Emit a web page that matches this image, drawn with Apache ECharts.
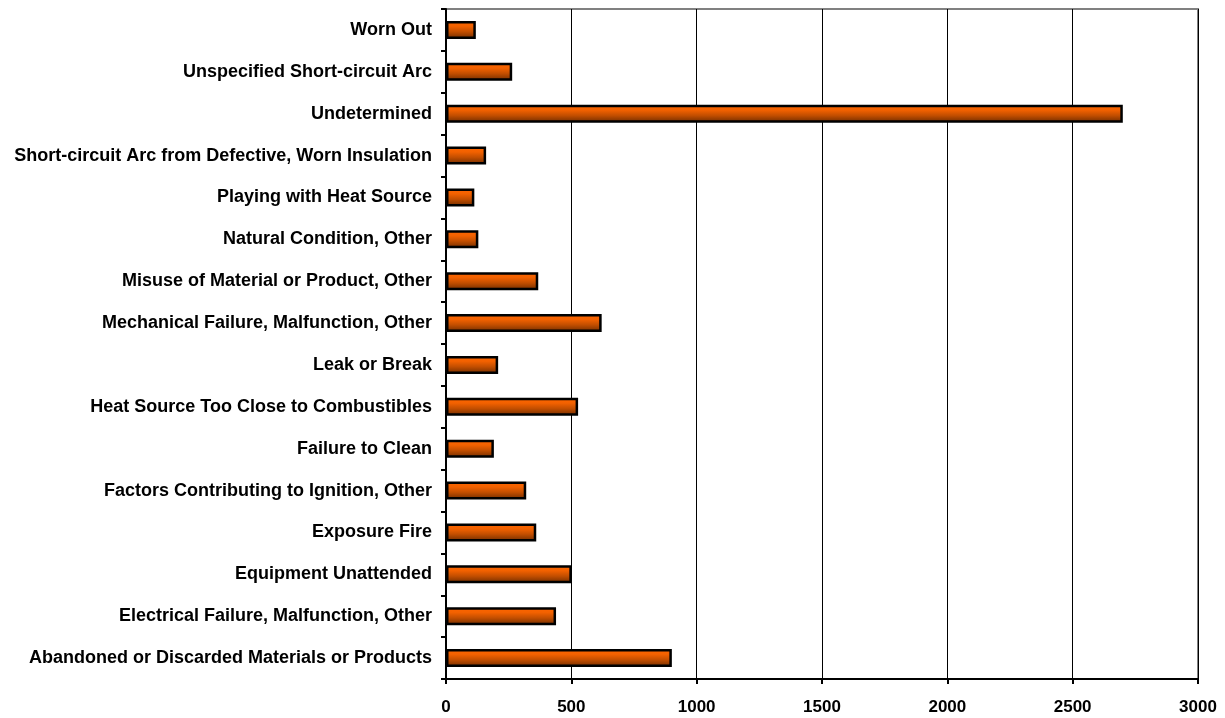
<!DOCTYPE html>
<html>
<head>
<meta charset="utf-8">
<script src="https://cdn.jsdelivr.net/npm/echarts@6/dist/echarts.min.js"></script>
<style>
html,body{margin:0;padding:0;background:#fff;}
#chart{width:1225px;height:718px;}
</style>
</head>
<body>
<div id="chart"></div>
<script>
// Categories listed from bottom to top
const categories = [
  "Abandoned or Discarded Materials or Products",
  "Electrical Failure, Malfunction, Other",
  "Equipment Unattended",
  "Exposure Fire",
  "Factors Contributing to Ignition, Other",
  "Failure to Clean",
  "Heat Source Too Close to Combustibles",
  "Leak or Break",
  "Mechanical Failure, Malfunction, Other",
  "Misuse of Material or Product, Other",
  "Natural Condition, Other",
  "Playing with Heat Source",
  "Short-circuit Arc from Defective, Worn Insulation",
  "Undetermined",
  "Unspecified Short-circuit Arc",
  "Worn Out"
];
const values = [901, 439, 502, 360, 320, 191, 527, 208, 621, 368, 129, 113, 160, 2700, 264, 119];
const xTicks = { min: 0, max: 3000, interval: 500 };

const chart = echarts.init(document.getElementById('chart'), null, { renderer: 'canvas' });
const font = 'Liberation Sans, Arial, sans-serif';
chart.setOption({
  animation: false,
  backgroundColor: '#ffffff',
  grid: {
    left: 446, right: 27, top: 9, bottom: 39,
    show: true, borderColor: '#808080', borderWidth: 2, backgroundColor: 'transparent'
  },
  xAxis: {
    type: 'value',
    min: xTicks.min, max: xTicks.max, interval: xTicks.interval,
    axisLine: { show: true, lineStyle: { color: '#000', width: 2 } },
    axisTick: { show: true, length: 5, inside: false, lineStyle: { color: '#000', width: 2 } },
    axisLabel: { color: '#000', fontFamily: font, fontWeight: 'bold', fontSize: 17, margin: 20,
      formatter: function (v) { return String(v); } },
    splitLine: { show: true, lineStyle: { color: '#000', width: 1 } }
  },
  yAxis: {
    type: 'category',
    data: categories,
    axisLine: { show: true, lineStyle: { color: '#000', width: 2 } },
    axisTick: { show: true, length: 5, inside: false, lineStyle: { color: '#000', width: 2 } },
    axisLabel: { color: '#000', fontFamily: font, fontWeight: 'bold', fontSize: 18, margin: 14 },
    splitLine: { show: false }
  },
  series: [{
    type: 'bar',
    data: values,
    barWidth: 18,
    itemStyle: {
      borderColor: '#000',
      borderWidth: 2.5,
      color: new echarts.graphic.LinearGradient(0, 0, 0, 1, [
        { offset: 0, color: '#ff6600' },
        { offset: 0.3, color: '#f26100' },
        { offset: 0.6, color: '#c24e00' },
        { offset: 1, color: '#6e2c00' }
      ])
    }
  }]
});
</script>
</body>
</html>
